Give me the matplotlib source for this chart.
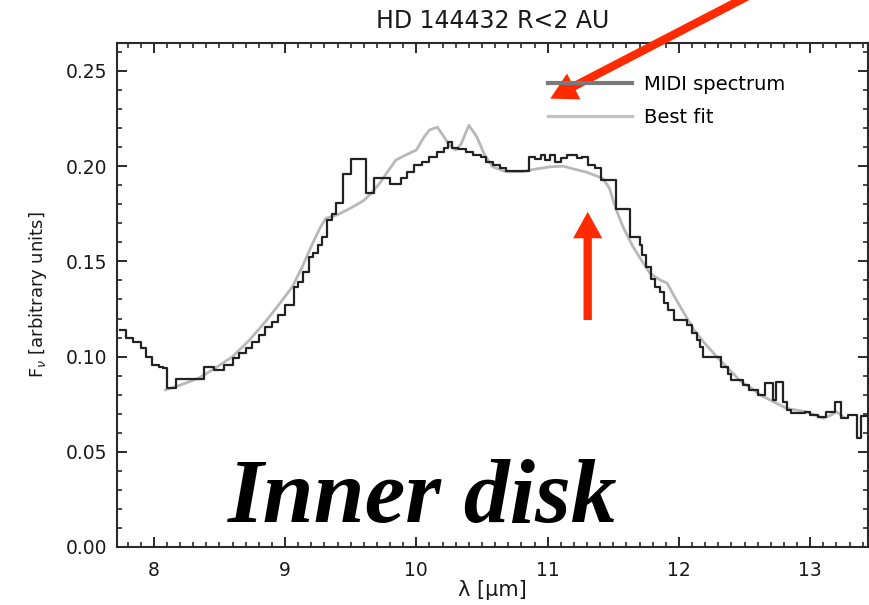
import numpy as np
import matplotlib
matplotlib.use("Agg")
import matplotlib.pyplot as plt
from matplotlib.ticker import MultipleLocator
from matplotlib.lines import Line2D

# ---- data -------------------------------------------------------------
# MIDI spectrum: left bin edges (micron) and flux values (steps-post)
spec_wl = [7.74, 7.79, 7.84, 7.90, 7.94, 7.99, 8.04, 8.07, 8.10, 8.17,
           8.38, 8.46, 8.535, 8.60, 8.65, 8.70, 8.75, 8.80, 8.85, 8.90,
           8.95, 9.00, 9.07, 9.10, 9.14, 9.18, 9.21, 9.25, 9.28, 9.32,
           9.36, 9.39, 9.445, 9.505, 9.615, 9.675, 9.80, 9.885, 9.93, 9.985,
           10.04, 10.10, 10.16, 10.21, 10.24, 10.27, 10.315, 10.38, 10.43, 10.49,
           10.53, 10.58, 10.64, 10.68, 10.86, 10.90, 10.95, 10.98, 11.02, 11.055,
           11.10, 11.15, 11.22, 11.26, 11.31, 11.36, 11.41, 11.52, 11.625, 11.70,
           11.72, 11.75, 11.79, 11.82, 11.855, 11.89, 11.92, 11.96, 12.06, 12.10,
           12.135, 12.16, 12.185, 12.32, 12.37, 12.40, 12.49, 12.53, 12.60, 12.655,
           12.72, 12.74, 12.79, 12.82, 12.85, 12.96, 13.00, 13.06, 13.12, 13.19,
           13.235, 13.29, 13.355, 13.39]
spec_flux = [0.114, 0.110, 0.1075, 0.1043, 0.100, 0.0956, 0.0947, 0.0938, 0.0833, 0.0881,
             0.0947, 0.093, 0.0956, 0.0991, 0.1017, 0.1043, 0.1078, 0.1113, 0.1157, 0.1183,
             0.1218, 0.127, 0.1367, 0.139, 0.1446, 0.1525, 0.1545, 0.1586, 0.163, 0.1717,
             0.175, 0.1805, 0.196, 0.204, 0.186, 0.1936, 0.1905, 0.1936, 0.197, 0.2005,
             0.2024, 0.205, 0.2076, 0.2094, 0.2129, 0.2094, 0.209, 0.2076, 0.2059, 0.205,
             0.2024, 0.2006, 0.1989, 0.1977, 0.205, 0.204, 0.206, 0.2033, 0.206, 0.2024,
             0.2041, 0.2059, 0.2041, 0.205, 0.2006, 0.1989, 0.1925, 0.1775, 0.163, 0.1586,
             0.1534, 0.1472, 0.141, 0.1366, 0.134, 0.128, 0.1245, 0.1192, 0.1165, 0.1122,
             0.1087, 0.1052, 0.100, 0.0947, 0.0911, 0.0877, 0.0851, 0.0825, 0.0800, 0.086,
             0.0772, 0.0868, 0.0763, 0.072, 0.0702, 0.071, 0.0693, 0.0681, 0.071, 0.0763,
             0.0676, 0.0693, 0.057, 0.069]
spec_end = 13.44

# Best fit model
fit_wl = [8.09, 8.20, 8.34, 8.47, 8.60, 8.72, 8.85, 8.95, 9.056, 9.13,
          9.21, 9.27, 9.31, 9.40, 9.50, 9.60, 9.66, 9.72, 9.78, 9.845,
          9.92, 10.00, 10.06, 10.10, 10.16, 10.21, 10.25, 10.30, 10.34, 10.40,
          10.46, 10.52, 10.58, 10.68, 10.81, 10.91, 11.02, 11.12, 11.20, 11.30,
          11.42, 11.47, 11.52, 11.575, 11.65, 11.72, 11.78, 11.85, 11.91, 11.97,
          12.04, 12.12, 12.19, 12.30, 12.40, 12.47, 12.55, 12.62, 12.72, 12.82,
          12.97, 13.05, 13.10, 13.15, 13.20, 13.25]
fit_flux = [0.0825, 0.085, 0.0886, 0.094, 0.100, 0.108, 0.1183, 0.127, 0.1367, 0.147,
            0.1595, 0.168, 0.1726, 0.1745, 0.178, 0.182, 0.186, 0.191, 0.197, 0.2033,
            0.2059, 0.2085, 0.2155, 0.219, 0.2205, 0.2155, 0.2111, 0.2085, 0.2115, 0.2215,
            0.2155, 0.2059, 0.1997, 0.1971, 0.1971, 0.1985, 0.1997, 0.2, 0.1985, 0.1968,
            0.1936, 0.1885, 0.1775, 0.168, 0.1577, 0.150, 0.1437, 0.1405, 0.1385, 0.131,
            0.1227, 0.1135, 0.1075, 0.099, 0.092, 0.087, 0.0835, 0.0798, 0.0763, 0.0728,
            0.071, 0.069, 0.0676, 0.069, 0.071, 0.0685]

title = "HD 144432 R<2 AU"
xlabel = "λ [μm]"
ylabel = r"F$_\nu$ [arbitrary units]"
legend_labels = ["MIDI spectrum", "Best fit"]
xticks = [8, 9, 10, 11, 12, 13]
yticks = [0.00, 0.05, 0.10, 0.15, 0.20, 0.25]

# ---- figure -----------------------------------------------------------
W, H = 869, 605
fig = plt.figure(figsize=(W / 100, H / 100), dpi=100)
ax = fig.add_axes([117 / W, (H - 547) / H, (868 - 117) / W, (547 - 43) / H])

axis_col = "#2a2a2a"
ax.plot(np.append(spec_wl, spec_end), np.append(spec_flux, spec_flux[-1]),
        drawstyle="steps-post", color="#222222", lw=1.6, zorder=3)
ax.plot(fit_wl, fit_flux, color="#b8b8b8", lw=2.0, zorder=2)

ax.set_xlim(7.72, 13.44)
ax.set_ylim(0.0, 0.2647)
ax.set_xticks(xticks)
ax.set_yticks(yticks)
ax.set_yticklabels([f"{v:.2f}" for v in yticks])
ax.xaxis.set_minor_locator(MultipleLocator(0.1))
ax.yaxis.set_minor_locator(MultipleLocator(0.01))
ax.tick_params(which="both", direction="in", top=True, right=True,
               color=axis_col, labelcolor="#1a1a1a")
ax.tick_params(which="major", length=7, width=1.4, labelsize=13.5)
ax.tick_params(which="minor", length=3.5, width=1.2)
ax.tick_params(axis="x", which="major", pad=10)
ax.tick_params(axis="y", which="major", pad=7)
for s in ax.spines.values():
    s.set_color(axis_col)
    s.set_linewidth(1.5)

ax.set_title(title, fontsize=17, pad=11, color="#1a1a1a")
ax.set_xlabel(xlabel, fontsize=15, labelpad=0, color="#1a1a1a")
ax.set_ylabel(ylabel, fontsize=13, labelpad=12, color="#1a1a1a")

handles = [Line2D([], [], color="#7a7a7a", lw=3.0),
           Line2D([], [], color="#c4c4c4", lw=2.4)]
ax.legend(handles, legend_labels, loc="upper left", bbox_to_anchor=(0.574, 0.936),
          frameon=False, fontsize=14, handlelength=4.3, handletextpad=0.65,
          labelspacing=0.72, borderpad=0, borderaxespad=0)

# annotations
ax.text(0.148, 0.05, "Inner disk", transform=ax.transAxes, fontsize=66,
        family="Liberation Serif", style="italic", weight="bold",
        color="black", ha="left", va="baseline")

red = "#ff2a00"
style = "simple,head_width=2.1,head_length=1.9,tail_width=0.6"
ax.annotate("", xy=(11.305, 0.176), xytext=(11.305, 0.1192),
            arrowprops=dict(arrowstyle=style, color=red, mutation_scale=10,
                            shrinkA=0, shrinkB=0, lw=0))
ax.annotate("", xy=(11.02, 0.2355), xytext=(12.60, 0.292),
            arrowprops=dict(arrowstyle=style, color=red, mutation_scale=10,
                            shrinkA=0, shrinkB=0, lw=0),
            annotation_clip=False)

fig.savefig("out.png", dpi=100)
